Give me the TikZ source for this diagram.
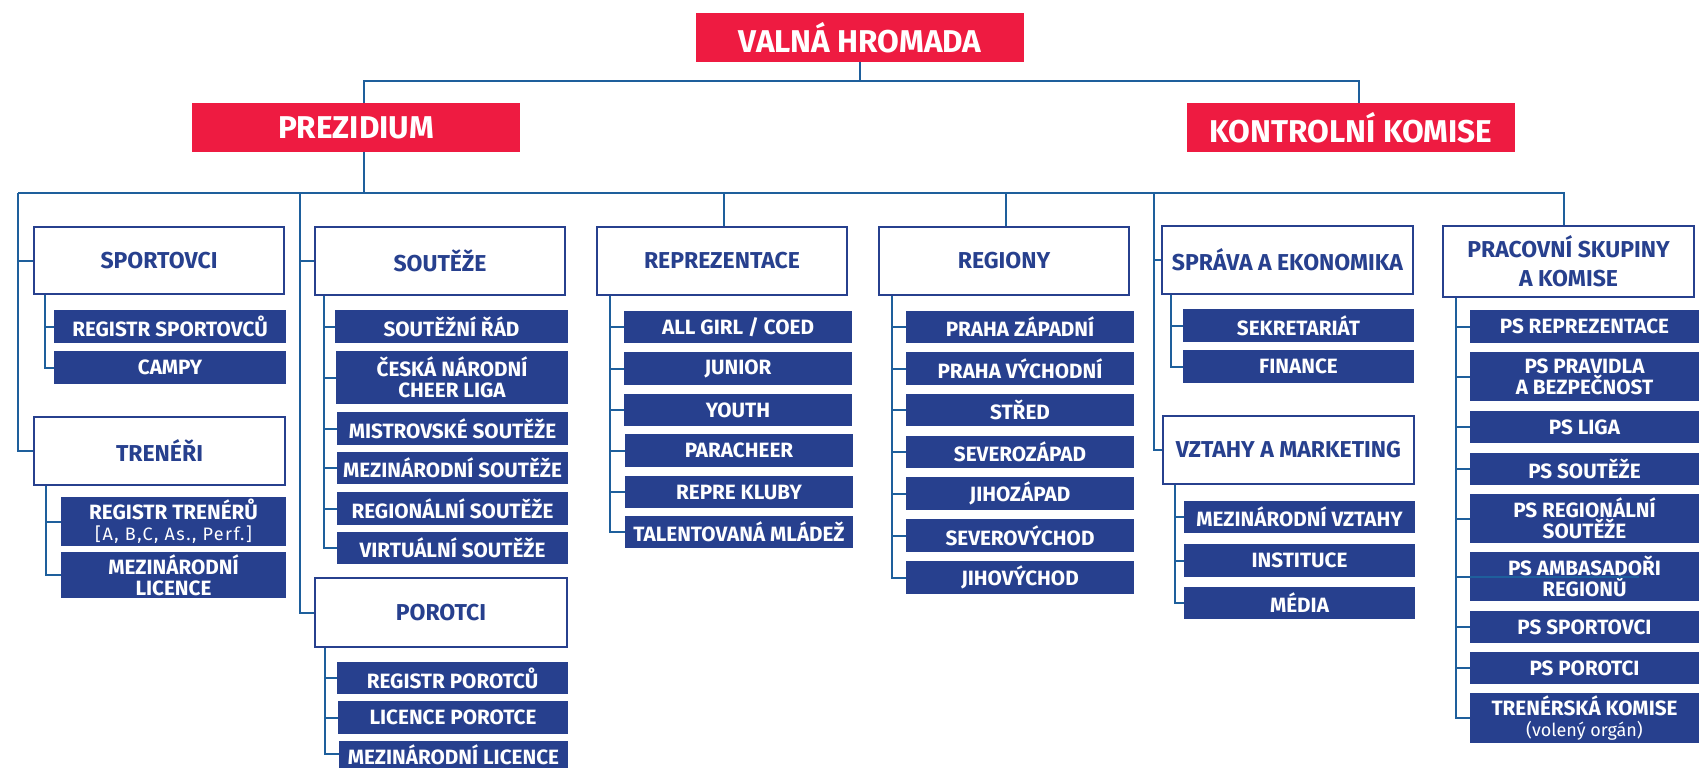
\documentclass[tikz,border=0pt]{standalone}
\usepackage{fontspec}
\newfontfamily\fira{Fira Sans}
\newfontfamily\firals{Fira Sans}[LetterSpace=8]
\definecolor{vred}{HTML}{EE1B41}
\definecolor{dblue}{HTML}{27408E}
\definecolor{lblue}{HTML}{1E5F9C}
\newcommand\topf{\fira\bfseries\fontsize{31.5}{34}\selectfont}
\newcommand\hdrf{\fira\bfseries\fontsize{23}{29}\selectfont}
\newcommand\itf{\fira\bfseries\fontsize{20.7}{21}\selectfont}
\newcommand\smf{\fira\mdseries\fontsize{18}{21}\selectfont}
\newcommand\smwf{\firals\mdseries\fontsize{18}{21}\selectfont}
\newcommand\bx[7]{\node[#6, minimum width={(#4-#2)*1pt}, minimum height={(#5-#3)*1pt}] (#1) at ({(#2+#4)/2},{(#3+#5)/2}) {#7};}
\tikzset{
  topbox/.style={fill=vred, text=white, font=\topf, inner sep=0pt, align=center},
  hdrbox/.style={draw=dblue, line width=2pt, fill=white, text=dblue, font=\hdrf, inner sep=0pt, align=center},
  itbox/.style={fill=dblue, text=white, font=\itf, inner sep=0pt, align=center},
  conn/.style={draw=lblue, line width=2pt},
}
\begin{document}
\begin{tikzpicture}[x=1pt,y=-1pt]
\useasboundingbox (0,0) rectangle (1699,768);
% top level
\bx{vh}{696}{13}{1024}{62}{topbox}{VALNÁ HROMADA}
\bx{prez}{192}{103}{520}{152}{topbox}{PREZIDIUM}
\bx{kk}{1187}{103}{1515}{152}{topbox}{KONTROLNÍ KOMISE}
% headers
\bx{sport}{34}{227}{284}{294}{hdrbox}{SPORTOVCI}
\bx{tren}{34}{417}{285}{485}{hdrbox}{TRENÉŘI}
\bx{sout}{315}{227}{565}{295}{hdrbox}{SOUTĚŽE}
\bx{porot}{315}{578}{567}{647}{hdrbox}{POROTCI}
\bx{repr}{597}{227}{847}{295}{hdrbox}{REPREZENTACE}
\bx{regi}{879}{227}{1129}{295}{hdrbox}{REGIONY}
\bx{sprava}{1162}{226}{1413}{294}{hdrbox}{SPRÁVA A EKONOMIKA}
\bx{vztahy}{1163}{416}{1414}{484}{hdrbox}{VZTAHY A MARKETING}
\bx{prac}{1443}{226}{1694}{297}{hdrbox}{PRACOVNÍ SKUPINY\\A KOMISE}
% sportovci
\bx{rs}{54}{310}{286}{343}{itbox}{REGISTR SPORTOVCŮ}
\bx{campy}{54}{351}{286}{384}{itbox}{CAMPY}
% treneri
\bx{rt}{61}{497}{286}{546}{itbox}{REGISTR TRENÉRŮ\\{\smwf [A, B,C, As., Perf.]}}
\bx{ml}{61}{552}{286}{598}{itbox}{MEZINÁRODNÍ\\LICENCE}
% souteze
\bx{s1}{335}{310}{568}{343}{itbox}{SOUTĚŽNÍ ŘÁD}
\bx{s2}{336}{351}{568}{404}{itbox}{ČESKÁ NÁRODNÍ\\CHEER LIGA}
\bx{s3}{337}{412}{568}{445}{itbox}{MISTROVSKÉ SOUTĚŽE}
\bx{s4}{337}{452}{568}{484}{itbox}{MEZINÁRODNÍ SOUTĚŽE}
\bx{s5}{337}{492}{568}{525}{itbox}{REGIONÁLNÍ SOUTĚŽE}
\bx{s6}{337}{532}{568}{564}{itbox}{VIRTUÁLNÍ SOUTĚŽE}
% porotci
\bx{p1}{337}{662}{568}{694}{itbox}{REGISTR POROTCŮ}
\bx{p2}{338}{701}{568}{734}{itbox}{LICENCE POROTCE}
\bx{p3}{339}{741}{568}{768}{itbox}{MEZINÁRODNÍ LICENCE}
% reprezentace
\bx{r1}{624}{311}{852}{343}{itbox}{ALL GIRL / COED}
\bx{r2}{624}{352}{852}{385}{itbox}{JUNIOR}
\bx{r3}{624}{394}{852}{426}{itbox}{YOUTH}
\bx{r4}{625}{434}{853}{467}{itbox}{PARACHEER}
\bx{r5}{625}{476}{853}{508}{itbox}{REPRE KLUBY}
\bx{r6}{625}{516}{853}{548}{itbox}{TALENTOVANÁ MLÁDEŽ}
% regiony
\bx{g1}{906}{311}{1134}{343}{itbox}{PRAHA ZÁPADNÍ}
\bx{g2}{906}{352}{1134}{385}{itbox}{PRAHA VÝCHODNÍ}
\bx{g3}{906}{394}{1134}{426}{itbox}{STŘED}
\bx{g4}{906}{436}{1134}{468}{itbox}{SEVEROZÁPAD}
\bx{g5}{906}{477}{1134}{510}{itbox}{JIHOZÁPAD}
\bx{g6}{906}{519}{1134}{552}{itbox}{SEVEROVÝCHOD}
\bx{g7}{906}{561}{1134}{594}{itbox}{JIHOVÝCHOD}
% sprava
\bx{e1}{1183}{309}{1414}{342}{itbox}{SEKRETARIÁT}
\bx{e2}{1183}{350}{1414}{383}{itbox}{FINANCE}
% vztahy
\bx{m1}{1184}{501}{1415}{533}{itbox}{MEZINÁRODNÍ VZTAHY}
\bx{m2}{1184}{544}{1415}{577}{itbox}{INSTITUCE}
\bx{m3}{1184}{587}{1415}{619}{itbox}{MÉDIA}
% pracovni skupiny
\bx{a1}{1470}{310}{1699}{343}{itbox}{PS REPREZENTACE}
\bx{a2}{1470}{352}{1699}{401}{itbox}{PS PRAVIDLA\\A BEZPEČNOST}
\bx{a3}{1470}{411}{1699}{443}{itbox}{PS LIGA}
\bx{a4}{1470}{453}{1699}{485}{itbox}{PS SOUTĚŽE}
\bx{a5}{1470}{494}{1699}{543}{itbox}{PS REGIONÁLNÍ\\SOUTĚŽE}
\bx{a6}{1470}{552}{1699}{601}{itbox}{PS AMBASADOŘI\\REGIONŮ}
\bx{a7}{1470}{611}{1699}{643}{itbox}{PS SPORTOVCI}
\bx{a8}{1470}{652}{1699}{684}{itbox}{PS POROTCI}
\bx{a9}{1470}{693}{1699}{743}{itbox}{TRENÉRSKÁ KOMISE\\{\smf (volený orgán)}}
% bus coordinates
\coordinate (t1) at (364,81);
\coordinate (t2) at (1359,81);
\coordinate (bL) at (18,193);
\coordinate (bS) at (300,193);
\coordinate (bP) at (364,193);
\coordinate (bR) at (724,193);
\coordinate (bG) at (1006,193);
\coordinate (bV) at (1154,193);
\coordinate (bE) at (1564,193);
% top connectors
\draw[conn] (vh.south) -- (vh.south |- t1);
\draw[conn] (t1 |- prez.north) -- (t1) -- (t2) -- (t2 |- kk.north);
\draw[conn] (bP |- prez.south) -- (bP);
\draw[conn] (bL) -- (bE) -- (bE |- prac.north);
\draw[conn] (bL) |- (tren.west);
\draw[conn] (bL |- sport.west) -- (sport.west);
\draw[conn] (bS) |- (porot.west);
\draw[conn] (bS |- sout.west) -- (sout.west);
\draw[conn] (bR) -- (bR |- repr.north);
\draw[conn] (bG) -- (bG |- regi.north);
\draw[conn] (bV) |- (vztahy.west);
\draw[conn] (bV |- sprava.west) -- (sprava.west);
% child connectors
\coordinate (xsp) at (45,0);
\coordinate (xtr) at (46,0);
\coordinate (xso) at (324,0);
\coordinate (xpo) at (325,0);
\coordinate (xre) at (610,0);
\coordinate (xrg) at (892,0);
\coordinate (xsv) at (1171,0);
\coordinate (xvz) at (1175,0);
\coordinate (xpr) at (1456,0);
\draw[conn] (xsp |- sport.south) |- (campy.west);
\foreach \c in {rs} {\draw[conn] (xsp |- \c.west) -- (\c.west);}
\draw[conn] (xtr |- tren.south) |- (ml.west);
\foreach \c in {rt} {\draw[conn] (xtr |- \c.west) -- (\c.west);}
\draw[conn] (xso |- sout.south) |- (s6.west);
\foreach \c in {s1,s2,s3,s4,s5} {\draw[conn] (xso |- \c.west) -- (\c.west);}
\draw[conn] (xpo |- porot.south) |- ([yshift=1pt]p3.west);
\foreach \c in {p1,p2} {\draw[conn] (xpo |- \c.west) -- (\c.west);}
\draw[conn] (xre |- repr.south) |- (r6.west);
\foreach \c in {r1,r2,r3,r4,r5} {\draw[conn] (xre |- \c.west) -- (\c.west);}
\draw[conn] (xrg |- regi.south) |- (g7.west);
\foreach \c in {g1,g2,g3,g4,g5,g6} {\draw[conn] (xrg |- \c.west) -- (\c.west);}
\draw[conn] (xsv |- sprava.south) |- (e2.west);
\foreach \c in {e1} {\draw[conn] (xsv |- \c.west) -- (\c.west);}
\draw[conn] (xvz |- vztahy.south) |- (m3.west);
\foreach \c in {m1,m2} {\draw[conn] (xvz |- \c.west) -- (\c.west);}
\draw[conn] (xpr |- prac.south) |- (a9.west);
\foreach \c in {a1,a2,a3,a4,a5,a7,a8} {\draw[conn] (xpr |- \c.west) -- (\c.west);}
\draw[conn] (xpr |- a6.west) -- ([xshift=169pt]a6.west);
\end{tikzpicture}
\end{document}
